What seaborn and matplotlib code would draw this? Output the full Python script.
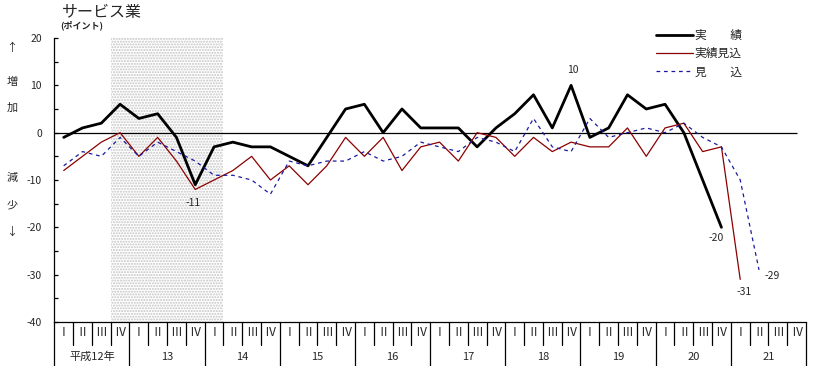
import numpy as np
import pandas as pd
import matplotlib
matplotlib.use("Agg")
import matplotlib.pyplot as plt
import seaborn as sns

# ---------- Data (quarterly, 平成12年 I .. 21 IV) ----------
years = ["平成12年", "13", "14", "15", "16", "17", "18", "19", "20", "21"]
quarters = ["Ⅰ", "Ⅱ", "Ⅲ", "Ⅳ"]
nan = np.nan

actual = [-1, 1, 2, 6, 3, 4, -1, -11, -3, -2,
          -3, -3, -5, -7, -1, 5, 6, 0, 5, 1,
          1, 1, -3, 1, 4, 8, 1, 10, -1, 1,
          8, 5, 6, 0, -10, -20, nan, nan, nan, nan]
actual_est = [-8, -5, -2, 0, -5, -1, -6, -12, -10, -8,
              -5, -10, -7, -11, -7, -1, -5, -1, -8, -3,
              -2, -6, 0, -1, -5, -1, -4, -2, -3, -3,
              1, -5, 1, 2, -4, -3, -31, nan, nan, nan]
forecast = [-7, -4, -5, -1, -5, -2, -4, -6, -9, -9,
            -10, -13, -6, -7, -6, -6, -4, -6, -5, -2,
            -3, -4, -1, -2, -4, 3, -3, -4, 3, -1,
            0, 1, 0, 2, -1, -3, -10, -29, nan, nan]

series_names = ["実　　績", "実績見込", "見　　込"]
shade_from, shade_to = 3, 8   # shaded quarters (12年IV .. 14年I)

# labelled points: (series, index)
callouts = [("実　　績", 27), ("実　　績", 7), ("実　　績", 35),
            ("実績見込", 36), ("見　　込", 37)]

n = len(actual)
df = pd.DataFrame({
    "q": np.tile(np.arange(n), 3),
    "value": actual + actual_est + forecast,
    "series": np.repeat(series_names, n),
})

# ---------- Style ----------
sns.set_style("white")
plt.rcParams["font.family"] = ["Noto Sans CJK JP", "DejaVu Sans"]
plt.rcParams["axes.unicode_minus"] = False
plt.rcParams["hatch.linewidth"] = 1.0

fig = plt.figure(figsize=(8.13, 3.66), dpi=100)
ax = fig.add_axes([54.3 / 813, 1 - 322 / 366, (806 - 54.3) / 813, 284 / 366])

styles = {
    "実　　績": dict(color="black", linewidth=2.0, linestyle="-"),
    "実績見込": dict(color="#8b0000", linewidth=0.9, linestyle="-"),
    "見　　込": dict(color="#1a1aa0", linewidth=0.9, linestyle=(0, (3, 3))),
}
for name in series_names:
    sub = df[df["series"] == name]
    sns.lineplot(data=sub, x="q", y="value", ax=ax, label=name, **styles[name])

ax.axvspan(shade_from - 0.5, shade_to + 0.5, facecolor="white", hatch="......",
           edgecolor="#c4c4c4", linewidth=0, zorder=0)
ax.hlines(0, -0.5, n - 1, color="black", linewidth=0.9, zorder=1)

ax.set_xlim(-0.5, n - 0.5)
ax.set_ylim(-40, 20)
ax.set_yticks(range(-40, 21, 10))
ax.set_yticks(range(-40, 21, 5), minor=True)
ax.set_xticks([])
ax.set_xlabel("")
ax.set_ylabel("")
for s in ["top", "right"]:
    ax.spines[s].set_visible(False)
ax.spines["left"].set_linewidth(0.9)
ax.spines["bottom"].set_linewidth(0.9)
ax.spines["left"].set_color("black")
ax.spines["bottom"].set_color("black")
ax.tick_params(axis="y", which="both", direction="in", left=True, length=3,
               width=0.9, color="black", labelsize=7.5, pad=9)

# callout values
offsets = {27: (2, 15), 7: (-2, -18), 35: (-5, -11), 36: (4, -13), 37: (13, -6)}
for name, i in callouts:
    v = df[(df["series"] == name) & (df["q"] == i)]["value"].iloc[0]
    dx, dy = offsets[i]
    ax.annotate(f"{v:.0f}", xy=(i, v), xytext=(dx, dy), textcoords="offset pixels",
                ha="center", va="center", fontsize=7.5)

# ---------- Category table below the axis ----------
tr = ax.get_xaxis_transform()
row1 = -23 / 284
row2 = -44 / 284
for k in range(n + 1):
    bottom = row2 if k % 4 == 0 else row1
    ax.plot([k - 0.5, k - 0.5], [0, bottom], transform=tr, color="black",
            linewidth=0.9, clip_on=False)
for i in range(n):
    ax.text(i, -10.5 / 284, quarters[i % 4], transform=tr, ha="center", va="center",
            fontsize=8.5, family=["Noto Sans CJK JP", "DejaVu Serif"])
for j, y in enumerate(years):
    ax.text(4 * j + 1.5, -34.5 / 284, y, transform=tr, ha="center", va="center",
            fontsize=8)

# ---------- Titles and side labels ----------
fig.text(62 / 813, 1 - 13 / 366, "サービス業", fontsize=11.5, va="center", ha="left")
fig.text(60 / 813, 1 - 25 / 366, "(ポイント)", fontsize=6.5, va="center", ha="left",
         fontweight="bold")
for txt, ypx in [("↑", 48), ("増", 82), ("加", 108), ("減", 178), ("少", 205), ("↓", 232)]:
    fig.text(12 / 813, 1 - ypx / 366, txt, fontsize=8, ha="center", va="center")

ax.legend(loc="upper left", bbox_to_anchor=(650 / 813, 1 - 23 / 366),
          bbox_transform=fig.transFigure, frameon=False, fontsize=8.5,
          handlelength=3.1, handletextpad=0.2, labelspacing=0.45, borderpad=0)

fig.savefig("out.png", dpi=100)
